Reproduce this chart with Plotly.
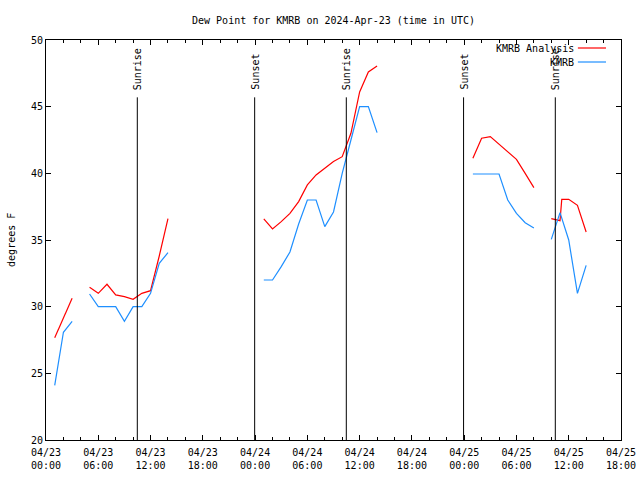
import pandas as pd
import plotly.graph_objects as go

BASE = pd.Timestamp("2024-04-23 00:00")

# hours after 2024-04-23 00:00 UTC (None = missing)
analysis_hours = [1, 2, 3, 4,
                  5, 6, 7, 8, 9, 10, 11, 12, 13, 14, 15,
                  25, 26, 27, 28, 29, 30, 31, 32, 33, 34, 35, 36, 37, 38, 39,
                  49, 50, 51, 52, 53, 54, 55, 56, 57,
                  58, 59, 59.2, 60, 61, 62]
analysis_vals = [27.67, 29.15, 30.63, None,
                 31.45, 31.0, 31.68, 30.88, 30.75, 30.55, 31.0, 31.2, 33.8, 36.6, None,
                 36.58, 35.83, 36.38, 37.0, 37.88, 39.13, 39.88, 40.38, 40.88, 41.25, 43.0, 46.1, 47.6, 48.05, None,
                 41.13, 42.63, 42.75, 42.18, 41.63, 41.05, 40.0, 38.93, None,
                 36.6, 36.45, 38.05, 38.05, 37.6, 35.6]

obs_hours = [1, 2, 3, 4,
             5, 6, 7, 8, 9, 10, 11, 12, 13, 14, 15,
             25, 26, 27, 28, 29, 30, 31, 32, 33, 34, 35, 36, 37, 38, 39,
             49, 50, 51, 52, 53, 54, 55, 56, 57,
             58, 59, 60, 61, 62]
obs_vals = [24.1, 28.08, 28.9, None,
            30.95, 30.0, 30.0, 30.0, 28.9, 30.0, 30.0, 31.0, 33.25, 34.05, None,
            32.0, 32.0, 33.0, 34.1, 36.2, 38.0, 38.0, 36.0, 37.1, 40.0, 42.5, 45.0, 45.0, 43.05, None,
            39.95, 39.95, 39.95, 39.95, 38.0, 37.0, 36.3, 35.9, None,
            35.05, 37.05, 35.0, 31.0, 33.1]

event_hours = [10.48, 23.95, 34.47, 47.93, 58.46]
event_labels = ["Sunrise", "Sunset", "Sunrise", "Sunset", "Sunrise"]

tick_hours = [0, 6, 12, 18, 24, 30, 36, 42, 48, 54, 60, 66]
tick_text = ["04/23<br>00:00", "04/23<br>06:00", "04/23<br>12:00", "04/23<br>18:00",
             "04/24<br>00:00", "04/24<br>06:00", "04/24<br>12:00", "04/24<br>18:00",
             "04/25<br>00:00", "04/25<br>06:00", "04/25<br>12:00", "04/25<br>18:00"]

series_names = ["KMRB Analysis", "KMRB"]
series_colors = ["#ff0000", "#1e8fff"]


def to_time(hours):
    return [BASE + pd.Timedelta(hours=h) for h in hours]


FONT = "DejaVu Sans Mono"

fig = go.Figure()
fig.add_trace(go.Scatter(x=to_time(analysis_hours), y=analysis_vals, mode="lines",
                         line=dict(color=series_colors[0], width=1.2), connectgaps=False,
                         name=series_names[0], showlegend=False))
fig.add_trace(go.Scatter(x=to_time(obs_hours), y=obs_vals, mode="lines",
                         line=dict(color=series_colors[1], width=1.2), connectgaps=False,
                         name=series_names[1], showlegend=False))

for h, lab in zip(event_hours, event_labels):
    t = BASE + pd.Timedelta(hours=h)
    fig.add_shape(type="line", x0=t, x1=t, y0=20, y1=45.7, xref="x", yref="y",
                  line=dict(color="black", width=1))
    fig.add_annotation(x=t, y=46.1, xref="x", yref="y", text=lab, textangle=-90,
                       showarrow=False, xanchor="center", yanchor="bottom",
                       font=dict(family=FONT, size=10, color="black"))

# legend (text left, line sample right as in reference)
leg_y = [0.98, 0.945]
for name, col, yy in zip(series_names, series_colors, leg_y):
    fig.add_annotation(x=0.922, y=yy, xref="paper", yref="paper", text=name,
                       showarrow=False, xanchor="right", yanchor="middle",
                       font=dict(family=FONT, size=10, color="black"))
    fig.add_shape(type="line", x0=0.925, x1=0.974, y0=yy, y1=yy, xref="paper", yref="paper",
                  line=dict(color=col, width=1.2))

fig.add_annotation(x=-0.061, y=0.5, xref="paper", yref="paper", text="degrees F",
                   textangle=-90, showarrow=False, xanchor="center", yanchor="middle",
                   font=dict(family=FONT, size=10, color="black"))

fig.update_layout(
    template="none",
    width=640, height=480,
    margin=dict(l=46, r=19, t=40, b=40, autoexpand=False),
    paper_bgcolor="white", plot_bgcolor="white",
    font=dict(family=FONT, size=10, color="black"),
    title=dict(text="Dew Point for KMRB on 2024-Apr-23 (time in UTC)", x=0.5, xref="paper",
               xanchor="center", y=1 - 20 / 480, yanchor="middle",
               font=dict(family=FONT, size=10, color="black")),
    showlegend=False,
)
fig.update_xaxes(
    type="date", automargin=False,
    range=[BASE, BASE + pd.Timedelta(hours=66)],
    tickvals=to_time(tick_hours), ticktext=tick_text,
    ticks="inside", ticklen=5, tickcolor="black", ticklabelstandoff=3,
    minor=dict(dtick=2 * 3600 * 1000, ticks="inside", ticklen=3, tickcolor="black"),
    showline=True, linecolor="black", linewidth=1, mirror="allticks",
    showgrid=False, zeroline=False,
    tickfont=dict(family=FONT, size=10, color="black"),
)
fig.update_yaxes(
    automargin=False,
    range=[20, 50], dtick=5, tick0=20,
    ticks="inside", ticklen=5, tickcolor="black",
    showline=True, linecolor="black", linewidth=1, mirror="allticks",
    showgrid=False, zeroline=False,
    tickfont=dict(family=FONT, size=10, color="black"),
)

fig.write_html("out.html", config={"displayModeBar": False},
               post_script="document.body.style.margin='0';document.body.style.padding='0';")
